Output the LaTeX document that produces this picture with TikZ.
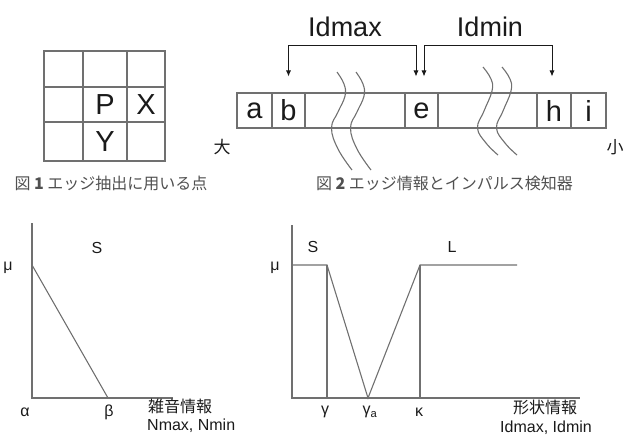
\documentclass[tikz,border=0pt]{standalone}
\usepackage{fontspec}
\setmainfont{Liberation Sans}
\newfontfamily\jp{Noto Sans CJK JP}
\usetikzlibrary{arrows.meta}
\definecolor{linegray}{HTML}{707070}
\definecolor{txt}{HTML}{1A1A1A}
\definecolor{capgray}{HTML}{505050}
\tikzset{
  cell/.style={draw=linegray, line width=1.1pt, rectangle, inner sep=0pt,
    font=\fontsize{29}{29}\selectfont, text=txt},
  bracket/.style={draw=txt, line width=0.8pt,
    {Latex[length=6pt,width=5pt]}-{Latex[length=6pt,width=5pt]}},
  wave/.style={draw=linegray, line width=1.1pt},
  axis/.style={draw=linegray, line width=1.1pt},
  curve/.style={draw=linegray, line width=1.1pt},
  big/.style={font=\fontsize{27}{27}\selectfont, text=txt, inner sep=0pt},
  lbl/.style={font=\fontsize{16}{16}\selectfont, text=txt, inner sep=0pt},
  axlbl/.style={font=\fontsize{16}{16}\selectfont, text=txt, inner sep=0pt},
  caption/.style={font=\jp\fontsize{16}{16}\selectfont, text=capgray, inner sep=0pt},
  side/.style={font=\jp\fontsize{17}{17}\selectfont, text=txt, inner sep=0pt}
}
\begin{document}
\begin{tikzpicture}[x=1pt,y=-1pt]
\useasboundingbox (0,0) rectangle (624,437);

% ---- Fig. 1: 3x3 neighbourhood
\foreach \r/\y/\h in {1/69/36, 2/104.5/35, 3/141.5/39}{
  \foreach \c/\x/\w in {1/63.5/39, 2/105/44, 3/146/38}{
    \node[cell, minimum width=\w pt, minimum height=\h pt] (c\r\c) at (\x,\y) {};
  }
}
\node[cell, draw=none] (p) at (c22) {P};
\node[cell, draw=none] (x) at (c23) {X};
\node[cell, draw=none] (y) at (c32) {Y};
\node[caption] (cap1) at (111,183) {図 {\bfseries 1} エッジ抽出に用いる点};

% ---- Fig. 2: edge strip
\node[cell, minimum width=35pt, minimum height=35pt] (a) at (254.5,110.5) {a};
\node[cell, minimum width=33pt, minimum height=35pt] (b) at (288.5,110.5) {b};
\node[cell, minimum width=100pt, minimum height=35pt] (g1) at (355,110.5) {};
\node[cell, minimum width=33pt, minimum height=35pt] (e) at (421.5,110.5) {e};
\node[cell, minimum width=99pt, minimum height=35pt] (g2) at (487.5,110.5) {};
\node[cell, minimum width=34pt, minimum height=35pt] (h) at (554,110.5) {h};
\node[cell, minimum width=35pt, minimum height=35pt] (i) at (588.5,110.5) {i};

% break marks
\foreach \dx in {0,19}{
  \draw[wave] plot[smooth, tension=0.7] coordinates
    {(337+\dx,72) (344+\dx,84) (345+\dx,96) (338+\dx,112) (331.5+\dx,128) (338+\dx,149) (352+\dx,170)};
  \draw[wave] plot[smooth, tension=0.7] coordinates
    {(483+\dx,67) (491+\dx,79) (492+\dx,91) (484+\dx,111) (477.5+\dx,128) (486+\dx,143) (498+\dx,155)};
}

% distance brackets
\draw[bracket] ([yshift=16pt]b.north) -- ++(0,-31) -| ([xshift=-5.5pt,yshift=16pt]e.north);
\draw[bracket] ([xshift=2.5pt,yshift=16pt]e.north) -- ++(0,-31) -| ([xshift=-2pt,yshift=16pt]h.north);
\node[big] (idmax) at (345,27) {Idmax};
\node[big] (idmin) at (490,27) {Idmin};

\node[side] (dai) at (222,147) {大};
\node[side] (sho) at (615,147) {小};
\node[caption] (cap2) at (444.5,183) {図 {\bfseries 2} エッジ情報とインパルス検知器};

% ---- Membership function S (noise)
\coordinate (lo) at (32,398);
\draw[axis] (32,223) -- (lo) -- (173,398);
\draw[curve] (32,265) -- (108,398);
\node[lbl] (mu1) at (8,268) {μ};
\node[lbl] (s1) at (97,248) {S};
\node[lbl] (al) at (25,412) {α};
\node[lbl] (be) at (109,412) {β};
\node[axlbl, anchor=west] (nz) at (148,406) {\jp 雑音情報};
\node[axlbl, anchor=west] (nm) at (147,426) {Nmax, Nmin};

% ---- Membership functions S and L (shape)
\coordinate (ro) at (292,398);
\draw[axis] (292,225) -- (ro) -- (580,398);
\draw[curve] (292,265) -- (327,265) -- (368,398) -- (420,265) -- (517,265);
\draw[curve] (327,265) -- (327,398);
\draw[curve] (420,265) -- (420,398);
\node[lbl] (mu2) at (275,268) {μ};
\node[lbl] (s2) at (313,247) {S};
\node[lbl] (l2) at (452,247) {L};
\node[lbl] (ga) at (325,412) {γ};
\node[lbl] (gaa) at (370,412) {γ\textsubscript{a}};
\node[lbl] (ka) at (419,412) {κ};
\node[axlbl] (sh) at (545,407) {\jp 形状情報};
\node[axlbl] (sm) at (546,428) {Idmax, Idmin};
\end{tikzpicture}
\end{document}
